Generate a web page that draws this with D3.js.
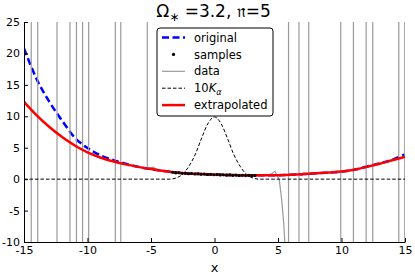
<!DOCTYPE html>
<html>
<head>
<meta charset="utf-8">
<script src="https://cdn.jsdelivr.net/npm/d3@7/dist/d3.min.js"></script>
<style>
  body { margin: 0; background: #fff; }
  text { font-family: "DejaVu Sans", sans-serif; fill: #000; }
</style>
</head>
<body>
<div id="chart"></div>
<script>
// values
var curveX = [-15, -14, -13, -12, -11, -10, -9, -8, -7, -6, -5, -4, -3, -2, -1, 0, 1, 2, 3, 4, 5, 6, 7, 8, 9, 10, 11, 12, 13, 14, 15];
var original = [20.8, 15.9, 12.3, 9.3, 6.6, 4.95, 3.8, 3.05, 2.45, 1.95, 1.6, 1.3, 1.05, 0.9, 0.8, 0.72, 0.66, 0.62, 0.6, 0.6, 0.63, 0.7, 0.8, 0.92, 1.05, 1.2, 1.5, 2.0, 2.5, 3.1, 3.95];
var extrapolated = [12.3, 10.15, 8.3, 6.7, 5.35, 4.25, 3.45, 2.85, 2.35, 1.95, 1.6, 1.3, 1.05, 0.9, 0.8, 0.72, 0.66, 0.62, 0.6, 0.6, 0.63, 0.7, 0.8, 0.92, 1.05, 1.2, 1.5, 1.95, 2.45, 3.0, 3.56];

var sampleX = [-3.3, -3.05, -2.8, -2.55, -2.3, -2.05, -1.8, -1.55, -1.3, -1.05, -0.8, -0.55, -0.3, -0.05, 0.2, 0.45, 0.7, 0.95, 1.2, 1.45, 1.7, 1.95, 2.2, 2.45, 2.7, 2.95, 3.2];
var sampleY = [1.1, 1.0, 1.02, 0.92, 0.95, 0.86, 0.9, 0.82, 0.86, 0.78, 0.8, 0.74, 0.77, 0.7, 0.73, 0.67, 0.7, 0.63, 0.67, 0.6, 0.64, 0.58, 0.62, 0.56, 0.6, 0.55, 0.58];

// grey "data": jumps to +/- infinity at these x, smooth piece in the middle
var jumpX = [-14.43, -13.92, -12.40, -11.38, -10.87, -10.39, -9.91, -7.81, -7.38, 5.83, 6.65, 7.42, 9.94, 10.94, 11.94, 12.46, 14.51, 14.98];
var dataX = [-5.3, -5.29, -4.82, -4.45, -4, -3, -2, -1, 0, 1, 2, 3, 4, 4.45, 4.76, 5.1, 5.29, 5.45, 5.55, 5.6];
var dataY = [60, 1.7, 1.9, 1.35, 1.25, 1.02, 0.88, 0.78, 0.7, 0.64, 0.6, 0.58, 0.58, 0.8, 1.25, -0.14, -3.3, -7, -10.5, -60];

var kernelX = [-15, -3.5, -3, -2.5, -2, -1.5, -1, -0.5, 0, 0.5, 1, 1.5, 2, 2.5, 3, 3.5, 15];
var kernelY = [0, 0, 0.2, 0.8, 2.1, 4.0, 6.6, 8.9, 9.9, 8.9, 6.6, 4.0, 2.1, 0.8, 0.2, 0, 0];

var xTicks = [-15, -10, -5, 0, 5, 10, 15];
var yTicks = [-10, -5, 0, 5, 10, 15, 20, 25];

var W = 415, H = 277;
var margin = {top: 22, right: 10, bottom: 35, left: 24},
    width = W - margin.left - margin.right,
    height = H - margin.top - margin.bottom;

var x = d3.scaleLinear().domain([-15, 15]).range([0, width]);
var y = d3.scaleLinear().domain([-10, 25]).range([height, 0]);

var svg = d3.select("#chart").append("svg")
    .attr("width", W)
    .attr("height", H);

svg.append("defs").append("clipPath")
    .attr("id", "clip")
    .append("rect")
    .attr("width", width)
    .attr("height", height);

var g = svg.append("g")
    .attr("transform", "translate(" + margin.left + "," + margin.top + ")");

var plot = g.append("g").attr("clip-path", "url(#clip)");

function pts(xs, ys) {
  return xs.map(function(d, i) { return [d, ys[i]]; });
}

var line = d3.line()
    .x(function(d) { return x(d[0]); })
    .y(function(d) { return y(d[1]); });

// original
plot.append("path")
    .attr("d", line.curve(d3.curveMonotoneX)(pts(curveX, original)))
    .attr("fill", "none")
    .attr("stroke", "#0000ff")
    .attr("stroke-width", 2.5)
    .attr("stroke-dasharray", "7,3.5");

// data
plot.selectAll(".jump")
    .data(jumpX)
    .enter().append("line")
    .attr("x1", function(d) { return x(d); })
    .attr("x2", function(d) { return x(d); })
    .attr("y1", y(-10))
    .attr("y2", y(25))
    .attr("stroke", "#9a9a9a")
    .attr("stroke-width", 1.2);

plot.append("path")
    .attr("d", line.curve(d3.curveLinear)(pts(dataX, dataY)))
    .attr("fill", "none")
    .attr("stroke", "#9a9a9a")
    .attr("stroke-width", 1.2);

// 10 K_alpha
plot.append("path")
    .attr("d", line.curve(d3.curveMonotoneX)(pts(kernelX, kernelY)))
    .attr("fill", "none")
    .attr("stroke", "#000")
    .attr("stroke-width", 1)
    .attr("stroke-dasharray", "3.5,2");

// extrapolated
plot.append("path")
    .attr("d", line.curve(d3.curveMonotoneX)(pts(curveX, extrapolated)))
    .attr("fill", "none")
    .attr("stroke", "#ff0000")
    .attr("stroke-width", 2.5);

// samples
plot.selectAll(".sample")
    .data(pts(sampleX, sampleY))
    .enter().append("circle")
    .attr("cx", function(d) { return x(d[0]); })
    .attr("cy", function(d) { return y(d[1]); })
    .attr("r", 1.6)
    .attr("fill", "#000");

// axes, ticks pointing in
var fmt = function(d) { return String(d); };
var xAxis = d3.axisBottom(x).tickValues(xTicks).tickFormat(fmt).tickSizeInner(-4).tickSizeOuter(0).tickPadding(4);
var yAxis = d3.axisLeft(y).tickValues(yTicks).tickFormat(fmt).tickSizeInner(-4).tickSizeOuter(0).tickPadding(6);

var gx = g.append("g")
    .attr("transform", "translate(0," + height + ")")
    .call(xAxis);
var gy = g.append("g").call(yAxis);

[gx, gy].forEach(function(a) {
  a.selectAll("text").style("font-size", "11px").style("font-family", "DejaVu Sans");
  a.selectAll("line, path").attr("stroke", "#000");
});
gy.selectAll("text").attr("x", -4);
gx.selectAll("text").attr("dy", "0.71em");

g.append("text")
    .attr("x", width / 2)
    .attr("y", height + 30)
    .attr("text-anchor", "middle")
    .style("font-size", "13px")
    .text("x");

// title
var title = svg.append("text")
    .attr("x", 213.5)
    .attr("y", 17)
    .attr("text-anchor", "middle")
    .style("font-size", "17px");
title.append("tspan").text("Ω");
title.append("tspan").attr("dy", 4).style("font-size", "12px").text("∗");
title.append("tspan").attr("dy", -4).text(" =3.2, ");
title.append("tspan").text("𝔫");
title.append("tspan").text("=5");

// legend
var legend = svg.append("g").attr("transform", "translate(157,28)");
legend.append("rect")
    .attr("width", 116)
    .attr("height", 88)
    .attr("rx", 3)
    .attr("fill", "#fff")
    .attr("stroke", "#000")
    .attr("stroke-width", 1);

var items = ["original", "samples", "data", "10K", "extrapolated"];
var rowY = function(i) { return 9.5 + i * 16.9; };

legend.append("line").attr("x1", 5).attr("x2", 28).attr("y1", rowY(0)).attr("y2", rowY(0))
    .attr("stroke", "#0000ff").attr("stroke-width", 2.5).attr("stroke-dasharray", "7,3.5");
legend.append("circle").attr("cx", 16.5).attr("cy", rowY(1)).attr("r", 1.6).attr("fill", "#000");
legend.append("line").attr("x1", 5).attr("x2", 28).attr("y1", rowY(2)).attr("y2", rowY(2))
    .attr("stroke", "#9a9a9a").attr("stroke-width", 1.2);
legend.append("line").attr("x1", 5).attr("x2", 28).attr("y1", rowY(3)).attr("y2", rowY(3))
    .attr("stroke", "#000").attr("stroke-width", 1).attr("stroke-dasharray", "3.5,2");
legend.append("line").attr("x1", 5).attr("x2", 28).attr("y1", rowY(4)).attr("y2", rowY(4))
    .attr("stroke", "#ff0000").attr("stroke-width", 2.5);

items.forEach(function(name, i) {
  var t = legend.append("text")
      .attr("x", 37)
      .attr("y", rowY(i))
      .attr("dy", "0.36em")
      .style("font-size", "11.5px");
  if (name === "10K") {
    t.append("tspan").text("10");
    t.append("tspan").style("font-style", "italic").text("K");
    t.append("tspan").attr("dy", 3).style("font-style", "italic").style("font-size", "8px").text("α");
  } else {
    t.text(name);
  }
});
</script>
</body>
</html>
